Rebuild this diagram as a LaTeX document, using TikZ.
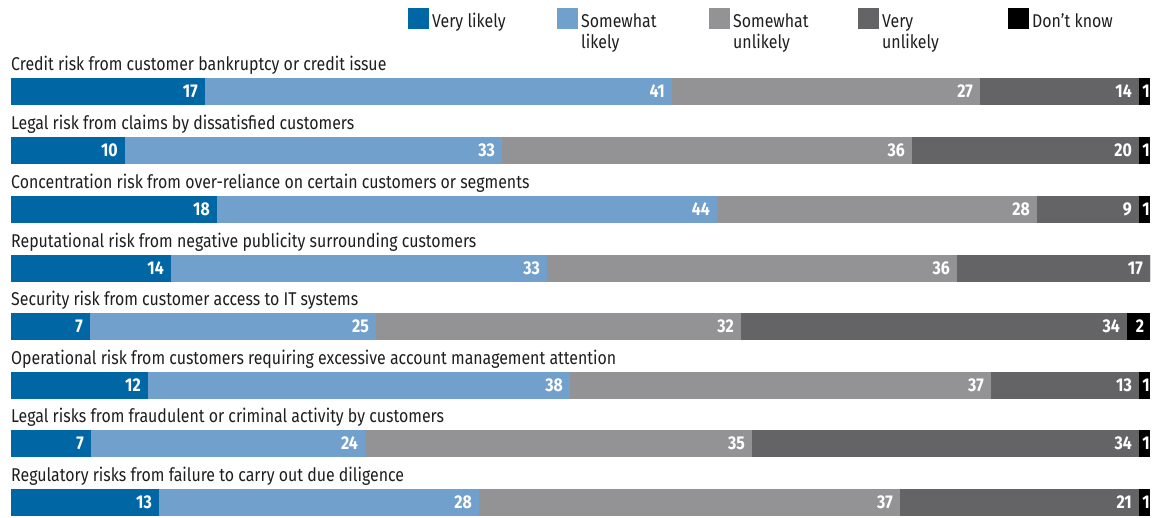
\documentclass[tikz,border=0pt]{standalone}
\usepackage{fontspec}
\setmainfont[FakeStretch=0.86]{Fira Sans}
\definecolor{vl}{RGB}{0,102,164}
\definecolor{sl}{RGB}{112,160,203}
\definecolor{su}{RGB}{147,147,150}
\definecolor{vu}{RGB}{100,100,102}
\definecolor{dk}{RGB}{0,0,0}
\definecolor{txt}{RGB}{30,30,30}
\tikzset{
  lab/.style={anchor=base west,inner sep=0pt,text=txt,font=\fontsize{18.5}{20}\selectfont},
  num/.style={anchor=east,inner sep=0pt,text=white,font=\bfseries\fontsize{18.5}{20}\selectfont},
  numc/.style={anchor=center,inner sep=0pt,text=white,font=\bfseries\fontsize{18.5}{20}\selectfont},
  leg/.style={anchor=north west,inner sep=0pt,text=txt,align=left,font=\fontsize{18.5}{20}\selectfont},
}
\begin{document}
\begin{tikzpicture}[x=1pt,y=-1pt]
\useasboundingbox (0,0) rectangle (1162,517);
% legend
\foreach \n/\x/\c/\t in {a/408/vl/{Very likely},b/557/sl/{Somewhat\\likely},c/709/su/{Somewhat\\unlikely},d/858/vu/{Very\\unlikely},e/1008/dk/{Don’t know}}{
  \fill[\c] (\x,8) rectangle ++(21,21);
  \node[leg] (leg\n) at (\x+24,13) {\strut\t};
}
% bars
\foreach \i/\t/\a/\b/\c/\d/\va/\vb/\vc/\vd/\ve/\lt in {
  1/78/205/672/980/1139/17/41/27/14/1/{Credit risk from customer bankruptcy or credit issue},
  2/137/125/502/912/1139/10/33/36/20/1/{Legal risk from claims by dissatisfied customers},
  3/196/217/717/1037/1139/18/44/28/9/1/{Concentration risk from over-reliance on certain customers or segments},
  4/255/171/547/957/1150/14/33/36/17//{Reputational risk from negative publicity surrounding customers},
  5/313/90/376/741/1127/7/25/32/34/2/{Security risk from customer access to IT systems},
  6/372/148/570/991/1139/12/38/37/13/1/{Operational risk from customers requiring excessive account management attention},
  7/430/91/365/752/1139/7/24/35/34/1/{Legal risks from fraudulent or criminal activity by customers},
  8/489/159/479/900/1139/13/28/37/21/1/{Regulatory risks from failure to carry out due diligence}}{
  \node[lab] (lab\i) at (11,\t-7.5) {\lt};
  \fill[vl] (11,\t) rectangle (\a,\t+27);
  \fill[sl] (\a,\t) rectangle (\b,\t+27);
  \fill[su] (\b,\t) rectangle (\c,\t+27);
  \fill[vu] (\c,\t) rectangle (\d,\t+27);
  \fill[dk] (\d,\t) rectangle (1150,\t+27);
  \node[num] (na\i) at (\a-7,\t+13.5) {\va};
  \node[num] (nb\i) at (\b-7,\t+13.5) {\vb};
  \node[num] (nc\i) at (\c-7,\t+13.5) {\vc};
  \node[num] (nd\i) at (\d-7,\t+13.5) {\vd};
  \node[numc] (ne\i) at ({(\d+1150)/2+1.5},\t+13.5) {\ve};
}
\end{tikzpicture}
\end{document}
